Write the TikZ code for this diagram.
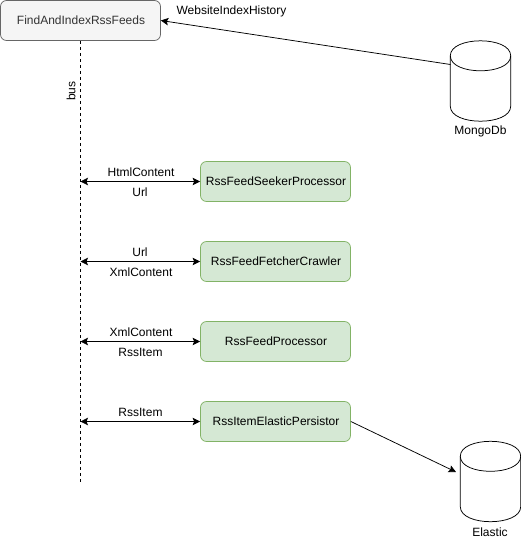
\documentclass[tikz,border=0pt]{standalone}
\usepackage{fontspec}
\setmainfont{Liberation Sans}
\usetikzlibrary{arrows.meta}
\definecolor{grayfill}{HTML}{F5F5F5}
\definecolor{grayline}{HTML}{666666}
\definecolor{graytext}{HTML}{333333}
\definecolor{greenfill}{HTML}{D5E8D4}
\definecolor{greenline}{HTML}{82B366}
\tikzset{
  lbl/.style={inner sep=0pt,font=\fontsize{12}{14}\selectfont,text=black},
  procbox/.style={draw=greenline,fill=greenfill,rounded corners=6pt,minimum width=150pt,minimum height=40pt,inner sep=0pt,line width=.75pt,font=\fontsize{12}{14}\selectfont,execute at begin node=\hspace*{1pt}},
  topbox/.style={draw=grayline,fill=grayfill,rounded corners=6pt,minimum width=160pt,minimum height=40pt,inner sep=0pt,line width=.75pt,text=graytext,font=\fontsize{12}{14}\selectfont,execute at begin node=\hspace*{1pt}},
  tip/.style={-{Stealth[length=7.5pt,width=7.5pt,inset=1.5pt]}},
  both/.style={{Stealth[length=7.5pt,width=7.5pt,inset=1.5pt]}-{Stealth[length=7.5pt,width=7.5pt,inset=1.5pt]}},
  conn/.style={line width=.75pt,black},
  anchorbox/.style={minimum width=60pt,minimum height=80pt,inner sep=0pt}
}
\newcommand{\cyl}[1]{%
  \draw[line width=.75pt,fill=white]
    ([yshift=-15pt]#1.north west) .. controls ([yshift=5pt]#1.north west) and ([yshift=5pt]#1.north east) .. ([yshift=-15pt]#1.north east)
    -- ([yshift=15pt]#1.south east)
    .. controls ([yshift=-5pt]#1.south east) and ([yshift=-5pt]#1.south west) .. ([yshift=15pt]#1.south west)
    -- cycle;
  \draw[line width=.75pt] ([yshift=-15pt]#1.north west) .. controls ([yshift=-35pt]#1.north west) and ([yshift=-35pt]#1.north east) .. ([yshift=-15pt]#1.north east);
}
\begin{document}
\begin{tikzpicture}[x=1pt,y=-1pt]
\useasboundingbox (0,0) rectangle (521,542);
\node[topbox] (main) at (80.5,20.5) {FindAndIndexRssFeeds};
\node[anchorbox] (mongo) at (480.5,81) {};
\node[anchorbox] (elastic) at (490.5,481.5) {};
\cyl{mongo}
\cyl{elastic}
\node[lbl] (mongolabel) at (480.5,131) {MongoDb};
\node[lbl] (elasticlabel) at (490,532) {Elastic};
\node[lbl] (history) at (231.5,11) {WebsiteIndexHistory};
\node[procbox] (seeker) at (275.5,181.5) {RssFeedSeekerProcessor};
\node[procbox] (fetcher) at (275.5,261.5) {RssFeedFetcherCrawler};
\node[procbox] (feedproc) at (275.5,341.5) {RssFeedProcessor};
\node[procbox] (persist) at (275.5,421.5) {RssItemElasticPersistor};
\coordinate (busend) at (80.5,481.5);
\coordinate (b1) at (80.5,181.5);
\coordinate (b2) at (80.5,261.5);
\coordinate (b3) at (80.5,341.5);
\coordinate (b4) at (80.5,421.5);
\coordinate (mongoin) at (450.5,64.5);
\coordinate (elasticin) at (456,472);
\draw[conn,dash pattern=on 3pt off 3pt] (main.south) -- (busend);
\node[lbl,rotate=90] (buslabel) at (71,91) {bus};
\draw[conn,tip] (mongoin) -- (main.east);
\draw[conn,tip] (persist.east) -- (elasticin);
\draw[conn,both] (b1) -- (seeker.west);
\draw[conn,both] (b2) -- (fetcher.west);
\draw[conn,both] (b3) -- (feedproc.west);
\draw[conn,both] (b4) -- (persist.west);
\node[lbl] (l1a) at (141,172) {HtmlContent};
\node[lbl] (l1b) at (140,192) {Url};
\node[lbl] (l2a) at (140,252) {Url};
\node[lbl] (l2b) at (141,272) {XmlContent};
\node[lbl] (l3a) at (141,332) {XmlContent};
\node[lbl] (l3b) at (140.5,352) {RssItem};
\node[lbl] (l4a) at (140.5,412) {RssItem};
\end{tikzpicture}
\end{document}
